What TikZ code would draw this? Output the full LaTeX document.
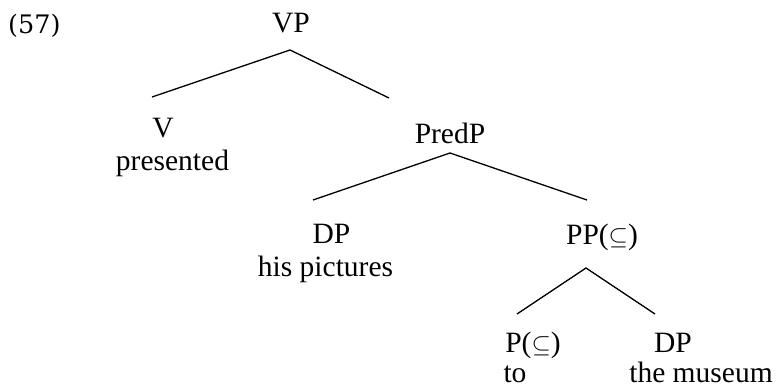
\documentclass[tikz,border=0pt]{standalone}
\usepackage{fontspec}
\setmainfont{Liberation Serif}
\newfontfamily\numfont{DejaVu Serif}
\begin{document}
\begin{tikzpicture}[x=1pt,y=-1pt,
  lbl/.style={inner sep=0pt,anchor=base,font=\fontsize{29.5}{34}\selectfont},
  edge/.style={line width=1.3pt}]
\useasboundingbox (0,0) rectangle (777,389);
\node[inner sep=0pt,anchor=base west,font=\numfont\fontsize{25.5}{30}\selectfont] (ex) at (8,33) {(57)};
\node[lbl] (VP) at (291,32) {VP};
\node[lbl] (V) at (163,137) {V};
\node[lbl] (presented) at (172.5,170) {presented};
\node[lbl] (PredP) at (450,143) {PredP};
\node[lbl] (DP1) at (331.5,243) {DP};
\node[lbl] (hispic) at (325.5,276) {his pictures};
\node[lbl] (PP) at (602,244) {PP($\subseteq$)};
\node[lbl] (P) at (533,352) {P($\subseteq$)};
\node[lbl] (to) at (515,382) {to};
\node[lbl] (DP2) at (673,352) {DP};
\node[lbl] (museum) at (701,382) {the museum};
\coordinate (VPb) at (290,50);
\coordinate (Vt) at (152,97);
\coordinate (PredPt) at (389,98);
\coordinate (PredPb) at (450,153);
\coordinate (DP1t) at (313,200);
\coordinate (PPt) at (587,200);
\coordinate (PPb) at (586,268);
\coordinate (Pt) at (517,314);
\coordinate (DP2t) at (655,314);
\draw[edge] (Vt) -- (VPb) -- (PredPt);
\draw[edge] (DP1t) -- (PredPb) -- (PPt);
\draw[edge] (Pt) -- (PPb) -- (DP2t);
\end{tikzpicture}
\end{document}
